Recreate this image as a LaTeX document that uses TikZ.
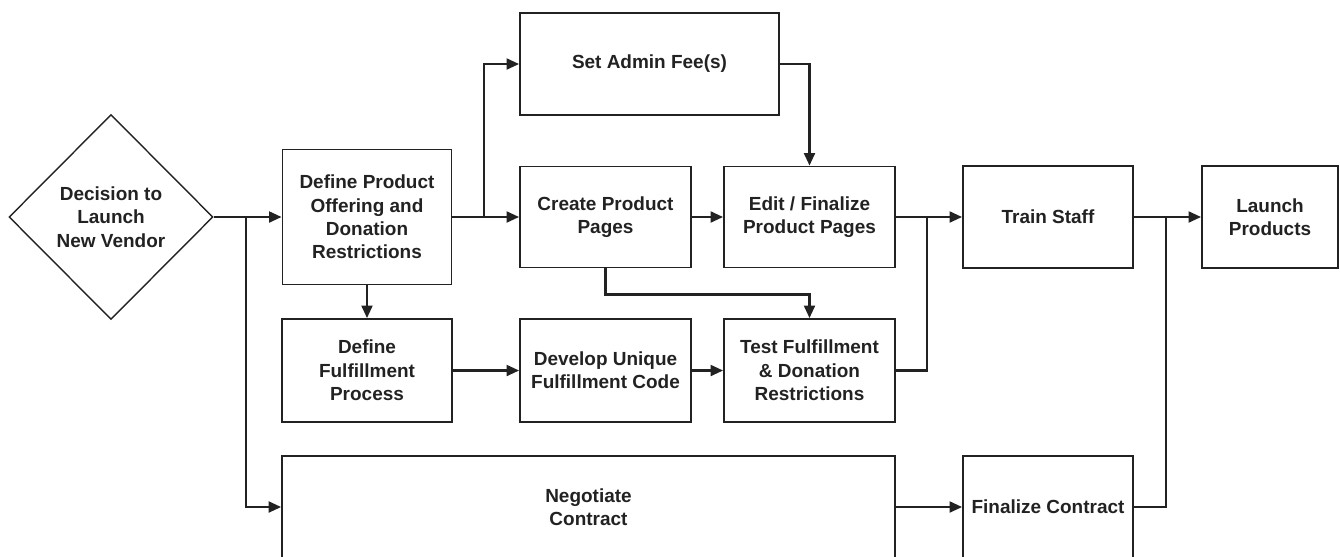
\documentclass[tikz,border=0pt]{standalone}
\usepackage{fontspec}
\setmainfont{Liberation Sans}
\usepackage{xcolor}
\usetikzlibrary{arrows.meta,shapes.geometric}
\definecolor{ink}{HTML}{222222}
\tikzset{
  stepbox/.style={rectangle, draw=ink, line width=1.1pt, align=center, inner sep=2pt,
    font=\fontsize{10.8}{13.3}\selectfont\bfseries, text=ink},
  decide/.style={diamond, draw=ink, line width=0.8pt, align=center, inner sep=0pt,
    font=\fontsize{10.8}{13.3}\selectfont\bfseries, text=ink},
  arr/.style={draw=ink, line width=1.2pt, -{Triangle[length=0.25cm, width=0.22cm]}},
  ln/.style={draw=ink, line width=1.2pt},
  every picture/.style={line cap=butt, line join=miter}
}

\begin{document}
\begin{tikzpicture}[x=0.02cm, y=-0.02cm]
  \useasboundingbox (0,0) rectangle (1340,556);
  \node[decide, minimum width=4.08cm, minimum height=4.1cm] (dec) at (111,217) {Decision to\\Launch\\New Vendor};
  \node[stepbox, minimum width=3.38cm, minimum height=2.7cm] (def) at (367,217) {Define Product\\Offering and\\Donation\\Restrictions};
  \node[stepbox, minimum width=5.18cm, minimum height=2.04cm] (fee) at (649.5,64) {Set Admin Fee(s)};
  \node[stepbox, minimum width=3.42cm, minimum height=2.02cm] (cpp) at (605.5,217) {Create Product\\Pages};
  \node[stepbox, minimum width=3.42cm, minimum height=2.02cm] (edit) at (809.5,217) {Edit / Finalize\\Product Pages};
  \node[stepbox, minimum width=3.4cm, minimum height=2.04cm] (train) at (1048,217) {Train Staff};
  \node[stepbox, minimum width=2.72cm, minimum height=2.04cm] (launch) at (1270,217) {Launch\\Products};
  \node[stepbox, minimum width=3.4cm, minimum height=2.06cm] (ful) at (367,370.5) {Define\\Fulfillment\\Process};
  \node[stepbox, minimum width=3.42cm, minimum height=2.06cm] (dev) at (605.5,370.5) {Develop Unique\\Fulfillment Code};
  \node[stepbox, minimum width=3.42cm, minimum height=2.06cm] (test) at (809.5,370.5) {Test Fulfillment\\\& Donation\\Restrictions};
  \node[stepbox, minimum width=12.26cm, minimum height=2.04cm] (neg) at (588.5,507) {Negotiate\\Contract};
  \node[stepbox, minimum width=3.4cm, minimum height=2.04cm] (finc) at (1048,507) {Finalize Contract};

  \coordinate (j1) at (246,217);
  \coordinate (j2) at (484,217);
  \coordinate (j3) at (927,217);
  \coordinate (j4) at (1166,217);

  % top row
  \draw[arr] (dec.east) -- (def.west);
  \draw[arr] (def.east) -- (cpp.west);
  \draw[arr] (cpp.east) -- (edit.west);
  \draw[arr] (edit.east) -- (train.west);
  \draw[arr] (train.east) -- (launch.west);
  \draw[arr] (j2) |- (fee.west);
  \draw[arr] (fee.east) -| (edit.north);

  % fulfillment row
  \draw[arr] (def.south) -- (ful.north);
  \draw[arr] (ful.east) -- (dev.west);
  \draw[arr] (dev.east) -- (test.west);
  \draw[arr] (cpp.south) -- ++(0,26) -| (test.north);
  \draw[ln] (test.east) -| (j3);

  % contract row
  \draw[arr] (j1) |- (neg.west);
  \draw[arr] (neg.east) -- (finc.west);
  \draw[ln] (finc.east) -| (j4);
\end{tikzpicture}
\end{document}
